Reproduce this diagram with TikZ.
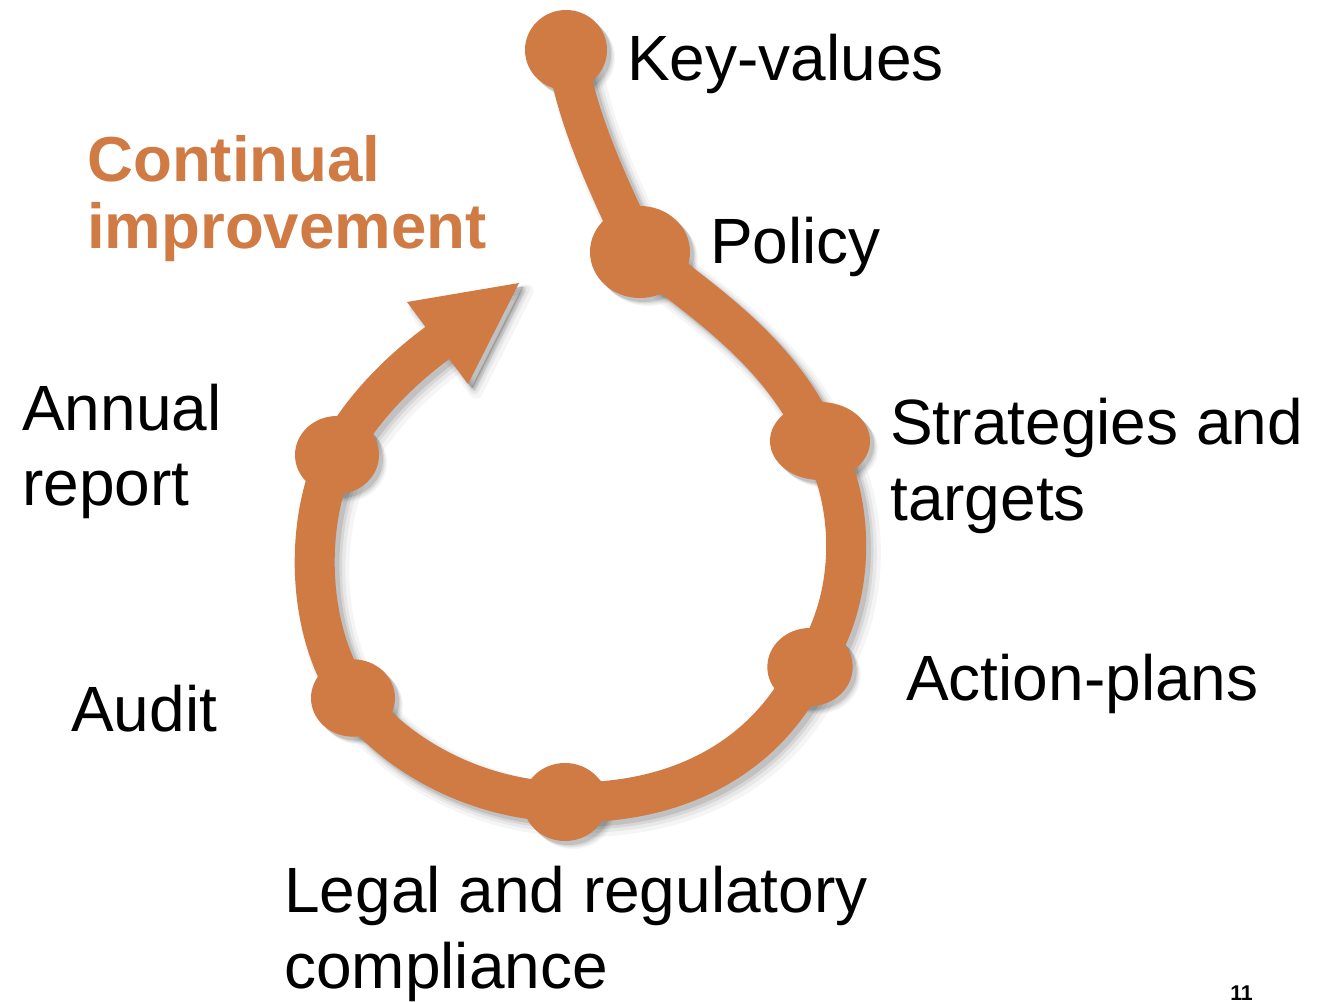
\documentclass[tikz,border=0pt]{standalone}
\usepackage{fontspec}
\setmainfont{Liberation Sans}
\usetikzlibrary{shapes.geometric,backgrounds}
\definecolor{orng}{RGB}{208,122,68}
\begin{document}
\begin{tikzpicture}[x=0.75pt,y=-0.75pt,
  dot/.style={ellipse, fill=orng, inner sep=0pt, outer sep=0pt},
  lbl/.style={anchor=base west, inner sep=0pt, font=\fontsize{48}{57}\selectfont},
  ci/.style={anchor=base west, inner sep=0pt, font=\fontsize{47.7}{57}\selectfont\bfseries, text=orng},
  pg/.style={anchor=base west, inner sep=0pt, font=\fontsize{16}{18}\selectfont\bfseries}]
\useasboundingbox (0,0) rectangle (1324,1002);

% dots
\node[dot, minimum width=61.5pt, minimum height=60pt] (kv)  at (566,50)  {};
\node[dot, minimum width=75pt,   minimum height=69pt] (pol) at (640,252) {};
\node[dot, minimum width=75pt,   minimum height=58.5pt] (str) at (820,441) {};
\node[dot, minimum width=64pt,   minimum height=58.5pt] (act) at (810,667) {};
\node[dot, minimum width=63pt,   minimum height=58.5pt] (leg) at (565,802) {};
\node[dot, minimum width=63pt,   minimum height=58pt] (aud) at (353,698) {};
\node[dot, minimum width=63pt,   minimum height=58.5pt] (ann) at (337,455) {};

\coordinate (ahb) at (440,341);
\coordinate (h1)  at (407,302);
\coordinate (tip) at (519,283);
\coordinate (h2)  at (468,384);

\path[save path=\bandp] (kv.center) .. controls (575,110) and (600,170) .. (pol.center)
  .. controls (700,300) and (780,350) .. (str.center)
  .. controls (855,500) and (858,600) .. (act.center)
  .. controls (760,770) and (660,805) .. (leg.center)
  .. controls (470,800) and (390,750) .. (aud.center)
  .. controls (305,630) and (305,520) .. (ann.center)
  .. controls (360,410) and (400,370) .. (ahb);
\path[save path=\dotsp]
  (kv.center) ellipse [x radius=30.75pt, y radius=30pt]
  (pol.center) ellipse [x radius=37.5pt, y radius=34.5pt]
  (str.center) ellipse [x radius=37.5pt, y radius=29.25pt]
  (act.center) ellipse [x radius=32pt, y radius=29.25pt]
  (leg.center) ellipse [x radius=31.5pt, y radius=29.25pt]
  (aud.center) ellipse [x radius=31.5pt, y radius=29pt]
  (ann.center) ellipse [x radius=31.5pt, y radius=29.25pt];
\path[save path=\headp] (h1) -- (tip) -- (h2) -- cycle;

\begin{scope}[on background layer]
  \fill[white] (0,0) rectangle (1324,1002);
  \foreach \lw/\op/\s in {40pt/0.04/6pt, 36pt/0.05/5pt, 33pt/0.07/4pt, 31pt/0.10/3pt} {
    \begin{scope}[transform canvas={shift={(\s,-\s)}}]
      \draw[use path=\bandp, black, line width=\lw, opacity=\op];
      \fill[use path=\dotsp, black, opacity=\op];
      \filldraw[use path=\headp, black, opacity=\op, line width=\lw-30pt, line join=round];
    \end{scope}
  }
  \draw[use path=\bandp, orng, line width=30pt];
\end{scope}
\fill[use path=\headp, orng];

% labels
\node[lbl] (t1) at (627,81) {Key-values};
\node[lbl] (t2) at (710,263) {Policy};
\node[lbl] (t3) at (890,444) {Strategies and};
\node[lbl] (t3b) at (890,520) {targets};
\node[lbl] (t4) at (906,700) {Action-plans};
\node[lbl] (t5) at (284,912) {Legal and regulatory};
\node[lbl] (t5b) at (284,988) {compliance};
\node[lbl] (t6) at (71,731) {Audit};
\node[lbl] (t7) at (22,430) {Annual};
\node[lbl] (t7b) at (22,505) {report};
\node[ci] (c1) at (87,182) {Continual};
\node[ci] (c2) at (87,248) {improvement};
\node[pg] (pn) at (1230,1000) {11};
\end{tikzpicture}
\end{document}
